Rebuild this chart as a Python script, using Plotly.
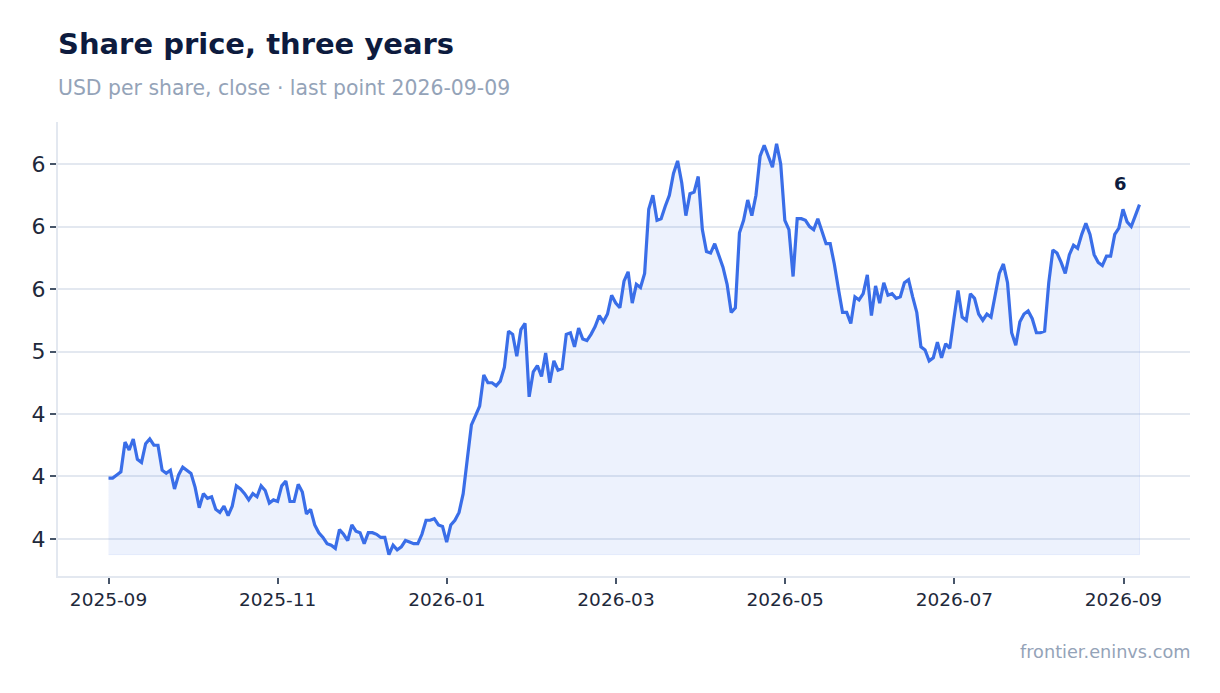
import pandas as pd
import plotly.graph_objects as go

# closing price, USD per share
close = [
    4.19, 4.19, 4.21, 4.23, 4.42, 4.37, 4.44, 4.31, 4.29, 4.41,
    4.44, 4.40, 4.40, 4.24, 4.22, 4.24, 4.12, 4.21, 4.26, 4.24,
    4.22, 4.13, 4.00, 4.09, 4.06, 4.07, 3.99, 3.97, 4.01, 3.95,
    4.01, 4.14, 4.12, 4.09, 4.05, 4.09, 4.07, 4.14, 4.11, 4.03,
    4.05, 4.04, 4.14, 4.17, 4.04, 4.04, 4.15, 4.10, 3.96, 3.99,
    3.89, 3.84, 3.81, 3.77, 3.76, 3.74, 3.86, 3.83, 3.79, 3.89,
    3.85, 3.84, 3.77, 3.84, 3.84, 3.83, 3.81, 3.81, 3.70, 3.76,
    3.73, 3.75, 3.79, 3.78, 3.77, 3.77, 3.83, 3.92, 3.92, 3.93,
    3.89, 3.88, 3.78, 3.89, 3.92, 3.97, 4.09, 4.31, 4.53, 4.59,
    4.65, 4.85, 4.80, 4.80, 4.78, 4.81, 4.90, 5.13, 5.11, 4.97,
    5.14, 5.18, 4.71, 4.87, 4.91, 4.84, 4.99, 4.80, 4.94, 4.88,
    4.89, 5.11, 5.12, 5.03, 5.15, 5.08, 5.07, 5.11, 5.16, 5.23,
    5.19, 5.24, 5.36, 5.31, 5.28, 5.45, 5.51, 5.31, 5.43, 5.41,
    5.50, 5.91, 6.00, 5.84, 5.85, 5.93, 6.00, 6.14, 6.22, 6.08,
    5.87, 6.01, 6.02, 6.12, 5.78, 5.64, 5.63, 5.69, 5.61, 5.54,
    5.43, 5.25, 5.28, 5.76, 5.84, 5.97, 5.87, 6.00, 6.25, 6.32,
    6.25, 6.18, 6.33, 6.20, 5.84, 5.78, 5.48, 5.85, 5.85, 5.84,
    5.80, 5.78, 5.85, 5.77, 5.69, 5.69, 5.56, 5.40, 5.25, 5.25,
    5.18, 5.35, 5.33, 5.37, 5.49, 5.23, 5.42, 5.31, 5.44, 5.36,
    5.37, 5.34, 5.35, 5.44, 5.46, 5.35, 5.25, 5.03, 5.01, 4.94,
    4.96, 5.06, 4.96, 5.05, 5.02, 5.21, 5.39, 5.22, 5.20, 5.37,
    5.34, 5.24, 5.20, 5.24, 5.22, 5.36, 5.50, 5.56, 5.44, 5.12,
    5.04, 5.19, 5.24, 5.26, 5.21, 5.12, 5.12, 5.13, 5.44, 5.65,
    5.63, 5.57, 5.50, 5.62, 5.68, 5.66, 5.75, 5.82, 5.75, 5.62,
    5.57, 5.55, 5.61, 5.61, 5.75, 5.79, 5.91, 5.83, 5.80, 5.87,
    5.94,
]
first_day = "2025-09-03"
last_day = "2026-09-09"
dates = pd.date_range(first_day, last_day, periods=len(close))

y_ticks = [3.8, 4.2, 4.6, 5.0, 5.4, 5.8, 6.2]
y_labels = ["4", "4", "4", "5", "6", "6", "6"]

BLUE = "#3a6ee8"
NAVY = "#0d1b3e"
MUTED = "#94a3b8"
GRID = "#e3e8f0"
FONT = "DejaVu Sans"

base = min(close)
span = dates[-1] - dates[0]
pad = span * 0.049

fig = go.Figure()

# shaded band under the line, closed down to the lowest close
fig.add_trace(go.Scatter(
    x=list(dates) + [dates[-1], dates[0]],
    y=close + [base, base],
    fill="toself", fillcolor="rgba(58,110,232,0.09)",
    line=dict(color="rgba(58,110,232,0.10)", width=1),
    mode="lines", hoverinfo="skip", showlegend=False,
))
fig.add_trace(go.Scatter(
    x=dates, y=close, mode="lines",
    line=dict(color=BLUE, width=3.2),
    showlegend=False,
))

fig.add_annotation(
    x=dates[-1], y=close[-1], text=f"<b>{close[-1]:.0f}</b>",
    showarrow=False, xshift=-19, yshift=21,
    font=dict(family=FONT, size=18, color=NAVY),
)

fig.update_layout(
    width=1220, height=693,
    margin=dict(l=50, r=38, t=114, b=125),
    paper_bgcolor="white", plot_bgcolor="white",
    font=dict(family=FONT, color="#1e293b"),
    title=dict(
        text="<b>Share price, three years</b>",
        x=50 / 1220, xanchor="left", xref="container",
        y=1 - 36 / 693, yanchor="middle", yref="container",
        font=dict(family=FONT, size=29, color=NAVY),
    ),
)
fig.add_annotation(
    text="USD per share, close · last point 2026-09-09",
    xref="paper", yref="paper", x=0, y=1 + (114 - 80) / 454,
    xanchor="left", yanchor="middle", showarrow=False, xshift=-2,
    font=dict(family=FONT, size=20.4, color=MUTED),
)
fig.add_annotation(
    text="frontier.eninvs.com",
    xref="paper", yref="paper", x=1, y=-(644 - 568) / 454,
    xanchor="right", yanchor="middle", showarrow=False, xshift=2,
    font=dict(family=FONT, size=17.7, color=MUTED),
)

fig.update_xaxes(
    type="date",
    range=[dates[0] - pad, dates[-1] + pad],
    tick0=dates[0], dtick=365.25 / 6 * 86400000, tickformat="%Y-%m",
    showgrid=False, showline=True, linecolor=GRID, linewidth=2,
    ticks="outside", ticklen=6, tickcolor="#475569", tickwidth=2,
    tickfont=dict(family=FONT, size=18.5, color="#1e293b"),
)
fig.update_yaxes(
    range=[3.563, 6.469],
    tickvals=y_ticks, ticktext=y_labels,
    showgrid=True, gridcolor=GRID, gridwidth=2,
    showline=True, linecolor=GRID, linewidth=2, zeroline=False,
    ticks="outside", ticklen=6, tickcolor="#475569", tickwidth=2,
    tickfont=dict(family=FONT, size=22, color="#1e293b"),
)

fig.write_html("out.html")
